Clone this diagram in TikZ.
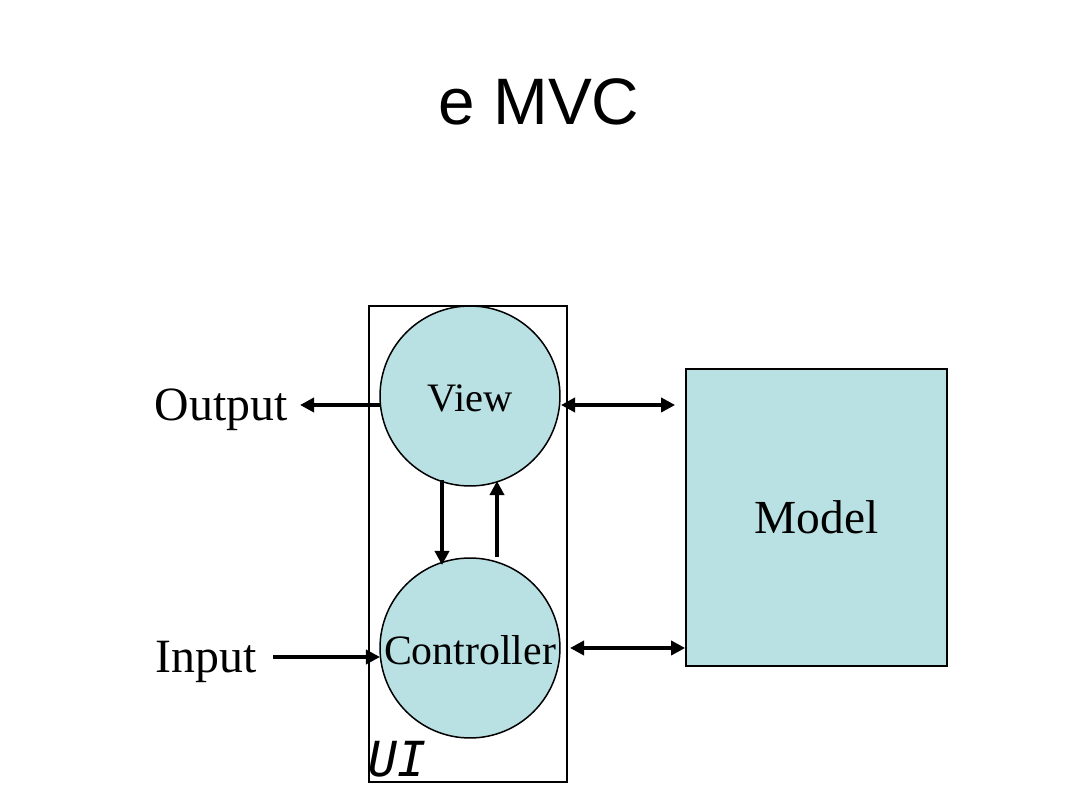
\documentclass[tikz,border=0pt]{standalone}
\usepackage{fontspec}
\setmainfont{Liberation Serif}
\newfontfamily\titlefont{Liberation Sans}
\newfontfamily\uifont{DejaVu Sans Mono}
\usetikzlibrary{arrows.meta,calc}
\definecolor{mvcfill}{RGB}{185,224,227}
\begin{document}
\begin{tikzpicture}[x=0.02cm,y=-0.02cm,
  bubble/.style={circle,draw=black,line width=0.85pt,fill=mvcfill,minimum size=3.6cm,inner sep=0pt,outer sep=0pt},
  lbl/.style={inner sep=0pt,font=\fontsize{27.2}{30}\selectfont},
  conn/.style={line width=2.2pt,-{Triangle[length=8pt,width=8pt]}},
  biconn/.style={line width=2.2pt,{Triangle[length=8pt,width=8pt]}-{Triangle[length=8pt,width=8pt]}}]
\path[use as bounding box,fill=white] (0,0) rectangle (1080,810);
\node[inner sep=0pt,font=\titlefont\fontsize{37.4}{40}\selectfont] (title) at (539,102) {e MVC};
\node[draw=black,line width=1.1pt,minimum width=3.96cm,minimum height=9.52cm,inner sep=0pt] (ui) at (468,544) {};
\node[inner sep=0pt,anchor=south west,font=\uifont\itshape\fontsize{27.5}{30}\selectfont] (uilbl) at (368,778) {UI};
\node[bubble] (view) at (470,396) {};
\node[inner sep=0pt,font=\fontsize{23}{26}\selectfont] (viewt) at (470,398) {View};
\node[bubble] (ctrl) at (470,648) {};
\node[inner sep=0pt,font=\fontsize{23.8}{26}\selectfont] (ctrlt) at (470,650) {Controller};
\node[draw=black,line width=1pt,fill=mvcfill,minimum width=5.22cm,minimum height=5.94cm,inner sep=0pt,font=\fontsize{27}{30}\selectfont] (model) at (816.5,517.5) {Model};
\node[lbl,anchor=east] (output) at (288,410) {Output};
\node[lbl,anchor=east] (input) at (257,662) {Input};
\coordinate (outstart) at ($(view.center)+(-90,9)$);
\coordinate (outend) at ($(output.east |- outstart)+(12,0)$);
\draw[conn] (outstart) -- (outend);
\coordinate (instart) at ($(input.east)+(16,-5)$);
\draw[conn] (instart) -- (instart -| ctrl.west);
\coordinate (vmstart) at ($(view.center)+(91,9)$);
\coordinate (vmend) at ($(vmstart -| model.west)+(-10,0)$);
\draw[biconn] (vmstart) -- (vmend);
\coordinate (cmstart) at ($(ctrl.center)+(100,0)$);
\draw[biconn] (cmstart) -- (cmstart -| model.west);
\coordinate (vcstart) at ($(view.center)+(-28,84)$);
\coordinate (vcend) at ($(ctrl.center)+(-28,-83)$);
\draw[conn] (vcstart) -- (vcend);
\coordinate (cvstart) at ($(ctrl.center)+(27,-91)$);
\coordinate (cvend) at ($(view.center)+(27,85)$);
\draw[conn] (cvstart) -- (cvend);
\end{tikzpicture}
\end{document}
